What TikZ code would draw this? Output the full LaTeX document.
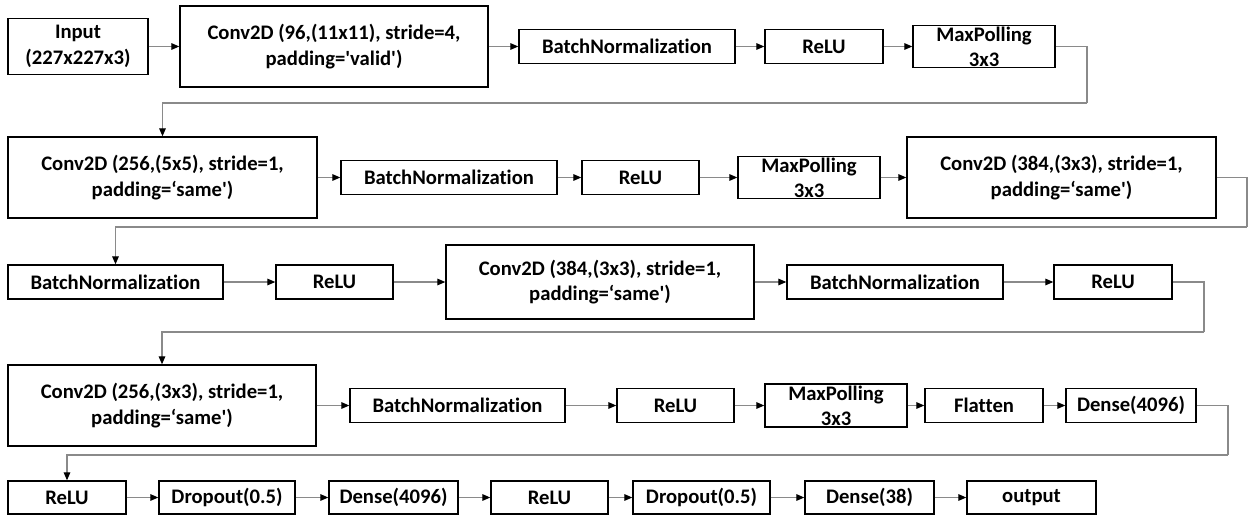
\documentclass[tikz,border=0pt]{standalone}
\usepackage{fontspec}
\newfontfamily\lbl{Carlito}[Ligatures=NoCommon]
\usetikzlibrary{arrows.meta}
\definecolor{linkgray}{HTML}{8A8A8A}
\begin{document}
\begin{tikzpicture}[x=0.75pt,y=-0.75pt,
  box/.style 2 args={draw=black, line width=1.1pt, fill=white,
    minimum width=#1*0.75pt, minimum height=#2*0.75pt,
    inner sep=0pt, align=center,
    font=\lbl\bfseries\fontsize{15.5}{19}\selectfont},
  conn/.style={draw=linkgray, line width=0.8pt,
    -{Triangle[black, length=6pt, width=5pt]}},
  turn/.style={draw=linkgray, line width=0.8pt}]
\useasboundingbox (0,0) rectangle (1248,517);

% row 1
\node[box={140}{56}] (in)  at (78,46.5)   {Input\\(227x227x3)};
\node[box={308}{81}] (c1)  at (334,46.5)  {Conv2D (96,(11x11), stride=4,\\padding='valid')};
\node[box={216}{34}] (bn1) at (627,46.5)  {BatchNormalization};
\node[box={118}{34}] (r1)  at (824,46.5)  {ReLU};
\node[box={142}{42}] (mp1) at (984,46.5)  {MaxPolling\\3x3};

% row 2
\node[box={309}{81}] (c2)  at (162.5,177.5) {Conv2D (256,(5x5), stride=1,\\padding=‘same')};
\node[box={216}{34}] (bn2) at (449,177.5)   {BatchNormalization};
\node[box={117}{34}] (r2)  at (640.5,177.5) {ReLU};
\node[box={142}{42}] (mp2) at (809,177.5)   {MaxPolling\\3x3};
\node[box={309}{81}] (c3)  at (1061.5,177.5){Conv2D (384,(3x3), stride=1,\\padding=‘same')};

% row 3
\node[box={215}{34}] (bn3) at (115.5,282) {BatchNormalization};
\node[box={117}{34}] (r3)  at (334.5,282) {ReLU};
\node[box={308}{74}] (c4)  at (600,282)   {Conv2D (384,(3x3), stride=1,\\padding=‘same')};
\node[box={216}{34}] (bn4) at (895,282)   {BatchNormalization};
\node[box={118}{34}] (r4)  at (1113,282)  {ReLU};

% row 4
\node[box={308}{81}] (c5)  at (162,405.5) {Conv2D (256,(3x3), stride=1,\\padding=‘same')};
\node[box={215}{34}] (bn5) at (457.5,405.5) {BatchNormalization};
\node[box={117}{34}] (r5)  at (675.5,405.5) {ReLU};
\node[box={142}{43}] (mp3) at (836,405.5)   {MaxPolling\\3x3};
\node[box={118}{34}] (fl)  at (984,405.5)   {Flatten};
\node[box={130}{34}] (d1)  at (1131,405.5)  {Dense(4096)};

% row 5
\node[box={118}{33}] (r6)  at (67,497.5)   {ReLU};
\node[box={136}{33}] (dp1) at (227,497.5)  {Dropout(0.5)};
\node[box={129}{33}] (d2)  at (393.5,497.5){Dense(4096)};
\node[box={117}{33}] (r7)  at (549.5,497.5){ReLU};
\node[box={137}{33}] (dp2) at (701.5,497.5){Dropout(0.5)};
\node[box={129}{33}] (d3)  at (869.5,497.5){Dense(38)};
\node[box={129}{33}] (out) at (1031.5,497.5){output};

% bends of the row-to-row links
\coordinate (k1) at (1087,103);
\coordinate (k2) at (1247,227);
\coordinate (k3) at (1204,332);
\coordinate (k4) at (1228,455);

% links inside each row
\foreach \a/\b in {in/c1, c1/bn1, bn1/r1, r1/mp1,
                   c2/bn2, bn2/r2, r2/mp2, mp2/c3,
                   bn3/r3, r3/c4, c4/bn4, bn4/r4,
                   c5/bn5, bn5/r5, r5/mp3, mp3/fl, fl/d1,
                   r6/dp1, dp1/d2, d2/r7, r7/dp2, dp2/d3, d3/out}
  \draw[conn] (\a.east) -- (\a.east -| \b.west);

% links from one row to the next
\draw[turn] (mp1.east) -| (k1);
\draw[conn] (k1) -| (c2.north);
\draw[turn] (c3.east) -| (k2);
\draw[conn] (k2) -| (bn3.north);
\draw[turn] (r4.east) -| (k3);
\draw[conn] (k3) -| (c5.north);
\draw[turn] (d1.east) -| (k4);
\draw[conn] (k4) -| (r6.north);
\end{tikzpicture}
\end{document}
